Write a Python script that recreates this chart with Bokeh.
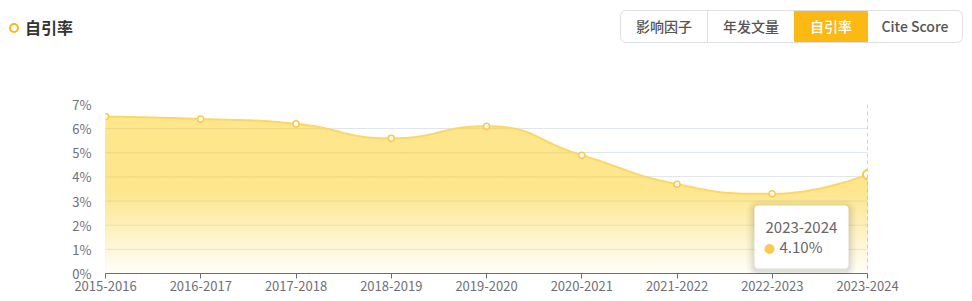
import numpy as np
from bokeh.plotting import figure
from bokeh.models import Range1d, FixedTicker, Span, BoxAnnotation, Label, Div
from bokeh.layouts import column
from bokeh.embed import file_html
from bokeh.resources import INLINE

# ---------------- data ----------------
years = ["2015-2016", "2016-2017", "2017-2018", "2018-2019", "2019-2020",
         "2020-2021", "2021-2022", "2022-2023", "2023-2024"]
rates = [6.5, 6.4, 6.2, 5.6, 6.1, 4.9, 3.7, 3.3, 4.1]
y_ticks = [0, 1, 2, 3, 4, 5, 6, 7]
y_tick_labels = ["0%", "1%", "2%", "3%", "4%", "5%", "6%", "7%"]
buttons = ["影响因子", "年发文量", "自引率", "Cite Score"]
active_button = "自引率"
title_text = "自引率"
hover_index = len(years) - 1

FONT = "Noto Sans CJK SC"
W = 972
HEADER_H = 60
FIG_H = 241
# frame in page pixels
FL, FR, FT, FB = 105, 867, 104, 273
Y_MAX = 7
n = len(years)
sx = (FR - FL) / (n - 1)
sy = (FB - FT) / Y_MAX


def dx(px):
    return (px - FL) / sx


def dy(py):
    return (FB - py) / sy


# ------------- echarts-like smooth curve (computed from the data) -------------
def smooth_curve(xs, ys, smooth=0.5, steps=40):
    P = [(x * sx, y * sy) for x, y in zip(xs, ys)]
    out_x, out_y = [], []
    cp0 = P[0]
    for i in range(1, len(P)):
        prev = P[i - 1]
        cur = P[i]
        if i == len(P) - 1:
            cp1 = cur
            next_cp0 = cur
        else:
            nxt = P[i + 1]
            vx = nxt[0] - prev[0]
            vy = nxt[1] - prev[1]
            l0 = np.hypot(cur[0] - prev[0], cur[1] - prev[1])
            l1 = np.hypot(nxt[0] - cur[0], nxt[1] - cur[1])
            r = l1 / (l0 + l1)
            ncx = cur[0] + vx * smooth * r
            ncy = cur[1] + vy * smooth * r
            ncx = min(ncx, max(nxt[0], cur[0])); ncy = min(ncy, max(nxt[1], cur[1]))
            ncx = max(ncx, min(nxt[0], cur[0])); ncy = max(ncy, min(nxt[1], cur[1]))
            vx = ncx - cur[0]; vy = ncy - cur[1]
            c1x = cur[0] - vx * l0 / l1
            c1y = cur[1] - vy * l0 / l1
            c1x = min(c1x, max(prev[0], cur[0])); c1y = min(c1y, max(prev[1], cur[1]))
            c1x = max(c1x, min(prev[0], cur[0])); c1y = max(c1y, min(prev[1], cur[1]))
            vx = cur[0] - c1x; vy = cur[1] - c1y
            ncx = cur[0] + vx * l1 / l0
            ncy = cur[1] + vy * l1 / l0
            cp1 = (c1x, c1y)
            next_cp0 = (ncx, ncy)
        t = np.linspace(0, 1, steps)
        if i > 1:
            t = t[1:]
        a = (1 - t) ** 3; b = 3 * (1 - t) ** 2 * t; c = 3 * (1 - t) * t ** 2; d = t ** 3
        bx = a * prev[0] + b * cp0[0] + c * cp1[0] + d * cur[0]
        by = a * prev[1] + b * cp0[1] + c * cp1[1] + d * cur[1]
        out_x.extend(bx / sx)
        out_y.extend(by / sy)
        cp0 = next_cp0
    return np.array(out_x), np.array(out_y)


xi = list(range(n))
cx, cy = smooth_curve(xi, rates)

# ---------------- figure ----------------
p = figure(width=W, height=FIG_H, x_range=Range1d(0, n - 1), y_range=Range1d(0, Y_MAX),
           output_backend="svg", toolbar_location=None,
           min_border_left=FL, min_border_right=W - FR,
           min_border_top=FT - HEADER_H, min_border_bottom=HEADER_H + FIG_H - FB,
           background_fill_color="white", border_fill_color="white")
p.outline_line_color = None
p.xgrid.grid_line_color = None
p.ygrid.grid_line_color = "#e0e6f1"
p.ygrid.ticker = FixedTicker(ticks=y_ticks)

p.yaxis.ticker = FixedTicker(ticks=y_ticks)
p.yaxis.major_label_overrides = {t: l for t, l in zip(y_ticks, y_tick_labels)}
p.yaxis.axis_line_color = None
p.yaxis.major_tick_line_color = None
p.yaxis.minor_tick_line_color = None
p.yaxis.major_label_standoff = 8
p.yaxis.major_label_text_font = FONT
p.yaxis.major_label_text_font_size = "13px"
p.yaxis.major_label_text_color = "#6e7079"

p.xaxis.ticker = FixedTicker(ticks=xi)
p.xaxis.major_label_overrides = {i: y for i, y in enumerate(years)}
p.xaxis.axis_line_color = "#6e7079"
p.xaxis.major_tick_line_color = "#6e7079"
p.xaxis.major_tick_out = 5
p.xaxis.major_tick_in = 0
p.xaxis.minor_tick_line_color = None
p.xaxis.major_label_standoff = 2
p.xaxis.major_label_text_font = FONT
p.xaxis.major_label_text_font_size = "13px"
p.xaxis.major_label_text_color = "#6e7079"

# gradient area (opaque bands, drawn from top down so there are no seams)
TOP = np.array([253, 230, 140])
WHITE = np.array([255, 255, 255])
N = 70
ymax = float(cy.max())
for k in range(N - 1, -1, -1):
    hi = ymax * (k + 1) / N + 0.01
    mid = ymax * (k + 0.5) / N
    t = min(1.0, mid / 3.4)
    a = 0.04 + 0.96 * t
    col = WHITE * (1 - a) + TOP * a
    hexcol = "#%02x%02x%02x" % tuple(int(round(v)) for v in col)
    p.varea(x=cx, y1=np.zeros_like(cy), y2=np.minimum(cy, hi), fill_color=hexcol, fill_alpha=1)

# grid lines visible through the area
for g in y_ticks[1:]:
    gy = np.where(cy >= g + 0.03, float(g), np.nan)
    p.line(cx, gy, line_color="#b4a064", line_alpha=0.22, line_width=1)

p.line(cx, cy, line_color="#fdd764", line_width=2)

# axis pointer
p.add_layout(Span(location=hover_index, dimension="height", line_color="#a8a8a8",
                  line_dash="4 3", line_width=1))

others = [i for i in xi if i != hover_index]
p.scatter(x=others, y=[rates[i] for i in others], size=6, fill_color="white",
          line_color="#fcc84e", line_width=1.5)
p.scatter(x=[hover_index], y=[rates[hover_index]], size=9, fill_color="white",
          line_color="#fcc84e", line_width=2)

# tooltip
bl, br, bt, bb = 754, 848, 205, 268
for s, al in [(8, 0.02), (6, 0.025), (4, 0.035), (2, 0.045)]:
    p.add_layout(BoxAnnotation(left=dx(bl - s), right=dx(br + s), top=dy(bt - s + 2),
                               bottom=dy(bb + s + 2), fill_color="black", fill_alpha=al,
                               line_color=None, border_radius=4 + s))
p.add_layout(BoxAnnotation(left=dx(bl), right=dx(br), top=dy(bt), bottom=dy(bb),
                           fill_color="white", fill_alpha=1, line_color="#f0f0f0",
                           line_width=1, border_radius=4))
p.add_layout(Label(x=dx(765), y=dy(227), text=years[hover_index], text_font=FONT,
                   text_font_size="15px", text_color="#666666", text_baseline="alphabetic"))
# tooltip marker dot (round box)
p.add_layout(BoxAnnotation(left=dx(764), right=dx(774), top=dy(243.5), bottom=dy(253.5),
                           fill_color="#fcc84e", fill_alpha=1, line_color=None, border_radius=5))
p.add_layout(Label(x=dx(779), y=dy(246), text=f"{rates[hover_index]:.2f}%", text_font=FONT,
                   text_font_size="15px", text_color="#666666", text_baseline="alphabetic"))

# ---------------- header ----------------
widths = [87, 86, 74, 94]
segs = []
for i, (b, w) in enumerate(zip(buttons, widths)):
    active = b == active_button
    border = "border-right:1px solid #dcdfe6;" if (i < len(buttons) - 1 and not active
                                                   and buttons[i + 1] != active_button) else ""
    bg = "background:#fcb813;color:#ffffff;" if active else "color:#555555;"
    segs.append(
        f'<div style="box-sizing:border-box;width:{w}px;height:31px;line-height:31px;'
        f'text-align:center;font-size:14px;font-weight:500;{bg}{border}">{b}</div>')
header_html = (
    f'<div style="position:relative;width:{W}px;height:{HEADER_H}px;'
    f"font-family:'{FONT}',sans-serif;\">"
    '<span style="position:absolute;left:9px;top:23px;box-sizing:border-box;width:10px;height:10px;'
    'border:2.5px solid #fcb813;border-radius:50%;"></span>'
    '<span style="position:absolute;left:25px;top:14px;font-size:16px;font-weight:bold;'
    f'color:#333333;line-height:26px;">{title_text}</span>'
    '<div style="position:absolute;left:620px;top:10px;box-sizing:border-box;width:343px;'
    'height:33px;border:1px solid #dcdfe6;border-radius:6px;overflow:hidden;display:flex;">'
    + "".join(segs) + "</div></div>")
header = Div(text=header_html, width=W, height=HEADER_H, margin=0)

layout = column(header, p, spacing=0)
open("out.html", "w").write(file_html(layout, INLINE))
